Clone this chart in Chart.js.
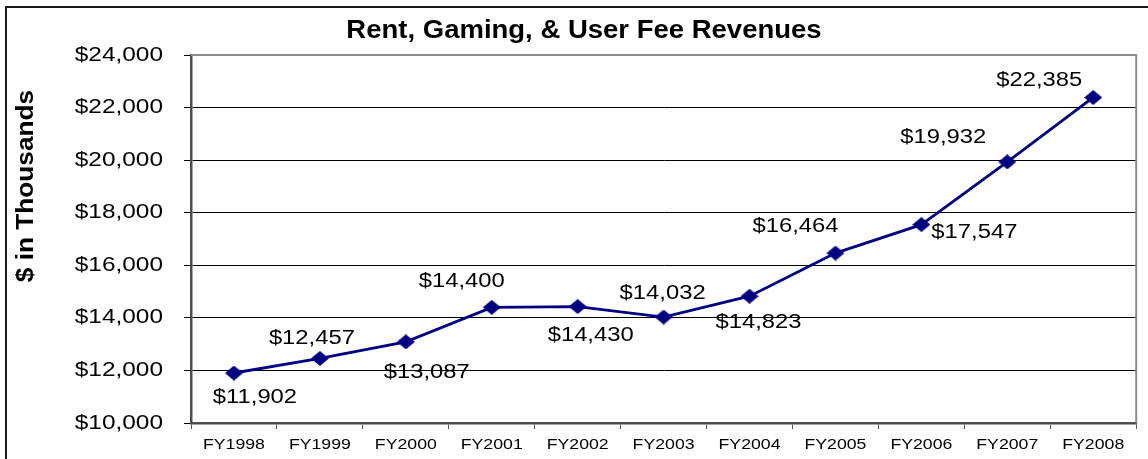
<!DOCTYPE html>
<html>
<head>
<meta charset="utf-8">
<title>Rent, Gaming, & User Fee Revenues</title>
<script src="https://cdn.jsdelivr.net/npm/chart.js@4.4.0/dist/chart.umd.min.js"></script>
<style>
  html, body { margin: 0; padding: 0; background: #fff; overflow: hidden; }
  #wrap { position: relative; width: 1148px; height: 459px; }
</style>
</head>
<body>
<div id="wrap"><canvas id="revenueChart"></canvas></div>
<script>
// ===================================
// DATA
// ===================================
const fiscalYears = ['FY1998', 'FY1999', 'FY2000', 'FY2001', 'FY2002', 'FY2003',
                     'FY2004', 'FY2005', 'FY2006', 'FY2007', 'FY2008'];
const revenues = [11902, 12457, 13087, 14400, 14430, 14032, 14823, 16464, 17547, 19932, 22385];
const yMin = 10000;
const yMax = 24000;
const yStep = 2000;
const chartTitle = 'Rent, Gaming, & User Fee Revenues';
const yAxisTitle = '$ in Thousands';

// where each value label sits relative to its point (placed by hand in the original)
const labelShift = [[21, 24], [-8, -20], [21, 31], [-30, -26], [13, 29], [-1, -24],
                    [9, 26], [-40, -27], [53, 8], [-64, -24], [-54, -17]];

const NAVY = '#000080';
const FONT = "'Liberation Sans', Arial, sans-serif";

function money(v) {
    return '$' + v.toLocaleString('en-US');
}

// the source picture was stretched sideways, so text gets drawn a bit wide
function wideText(ctx, text, x, y, size, bold, sx, align, rotate) {
    ctx.save();
    ctx.translate(x, y);
    if (rotate) ctx.rotate(-Math.PI / 2);
    ctx.scale(sx, 1);
    ctx.font = (bold ? 'bold ' : '') + size + 'px ' + FONT;
    ctx.fillStyle = '#000';
    ctx.textAlign = align;
    ctx.textBaseline = 'middle';
    ctx.fillText(text, 0, 0);
    ctx.restore();
}

// --- diamond marker (a little wider than tall, like the original) ---
const diamond = document.createElement('canvas');
diamond.width = 18;
diamond.height = 15;
const dctx = diamond.getContext('2d');
dctx.fillStyle = NAVY;
dctx.beginPath();
dctx.moveTo(9, 0);
dctx.lineTo(18, 7.5);
dctx.lineTo(9, 15);
dctx.lineTo(0, 7.5);
dctx.closePath();
dctx.fill();

// ===================================
// TEXT + FRAME PLUGIN
// ===================================
const textLayer = {
    id: 'textLayer',
    beforeDraw(chart) {
        // outer chart border (left and top only show in the crop)
        const ctx = chart.ctx;
        ctx.save();
        ctx.strokeStyle = '#1a1a1a';
        ctx.lineWidth = 2;
        ctx.beginPath();
        ctx.moveTo(6, chart.height);
        ctx.lineTo(6, 7);
        ctx.lineTo(chart.width, 7);
        ctx.stroke();
        ctx.restore();
    },
    beforeDatasetsDraw(chart) {
        // grey plot frame on top and right
        const ctx = chart.ctx;
        const a = chart.chartArea;
        ctx.save();
        ctx.strokeStyle = '#8c8c8c';
        ctx.lineWidth = 2;
        ctx.beginPath();
        ctx.moveTo(a.left, a.top);
        ctx.lineTo(a.right, a.top);
        ctx.lineTo(a.right, a.bottom);
        ctx.stroke();
        ctx.restore();
    },
    afterDraw(chart) {
        const ctx = chart.ctx;
        const xs = chart.scales.x;
        const ys = chart.scales.y;

        wideText(ctx, chartTitle, 584, 31, 25, true, 1.1, 'center');
        wideText(ctx, yAxisTitle, 27, 186, 23, true, 1.14, 'center', true);

        ys.ticks.forEach(t => {
            wideText(ctx, money(t.value), ys.right - 28, ys.getPixelForValue(t.value), 20, false, 1.22, 'right');
        });
        fiscalYears.forEach((fy, i) => {
            wideText(ctx, fy, xs.getPixelForTick(i), 445, 15, false, 1.18, 'center');
        });

        const pts = chart.getDatasetMeta(0).data;
        pts.forEach((p, i) => {
            wideText(ctx, money(revenues[i]), p.x + labelShift[i][0], p.y + labelShift[i][1],
                     20, false, 1.19, 'center');
        });
    }
};

// ===================================
// CHART CONFIG
// ===================================
const revenueConfig = {
    type: 'line',
    data: {
        labels: fiscalYears,
        datasets: [{
            label: 'Revenues',
            data: revenues,
            borderColor: NAVY,
            borderWidth: 2.8,
            tension: 0,
            fill: false,
            pointStyle: diamond,
            pointRadius: 9,
            pointHoverRadius: 9
        }]
    },
    options: {
        responsive: true,
        maintainAspectRatio: false,
        animation: false,
        layout: { padding: { top: 55, right: 11, bottom: 0, left: 0 } },
        plugins: {
            legend: { display: false },
            title: { display: false },
            tooltip: { enabled: false }
        },
        scales: {
            x: {
                offset: true,
                grid: {
                    offset: true,
                    drawOnChartArea: false,
                    drawTicks: true,
                    tickLength: 6,
                    color: '#555'
                },
                border: { color: '#4d4d4d', width: 2.5 },
                ticks: { display: false },
                afterFit: s => { s.height = 36; }
            },
            y: {
                min: yMin,
                max: yMax,
                ticks: { display: false, stepSize: yStep },
                grid: { color: '#000', lineWidth: 1, tickLength: 7 },
                border: { color: '#4d4d4d', width: 2.5 },
                afterFit: s => { s.width = 191; }
            }
        }
    },
    plugins: [textLayer]
};

// --- Render Chart ---
const ctxRev = document.getElementById('revenueChart').getContext('2d');
new Chart(ctxRev, revenueConfig);
</script>
</body>
</html>
